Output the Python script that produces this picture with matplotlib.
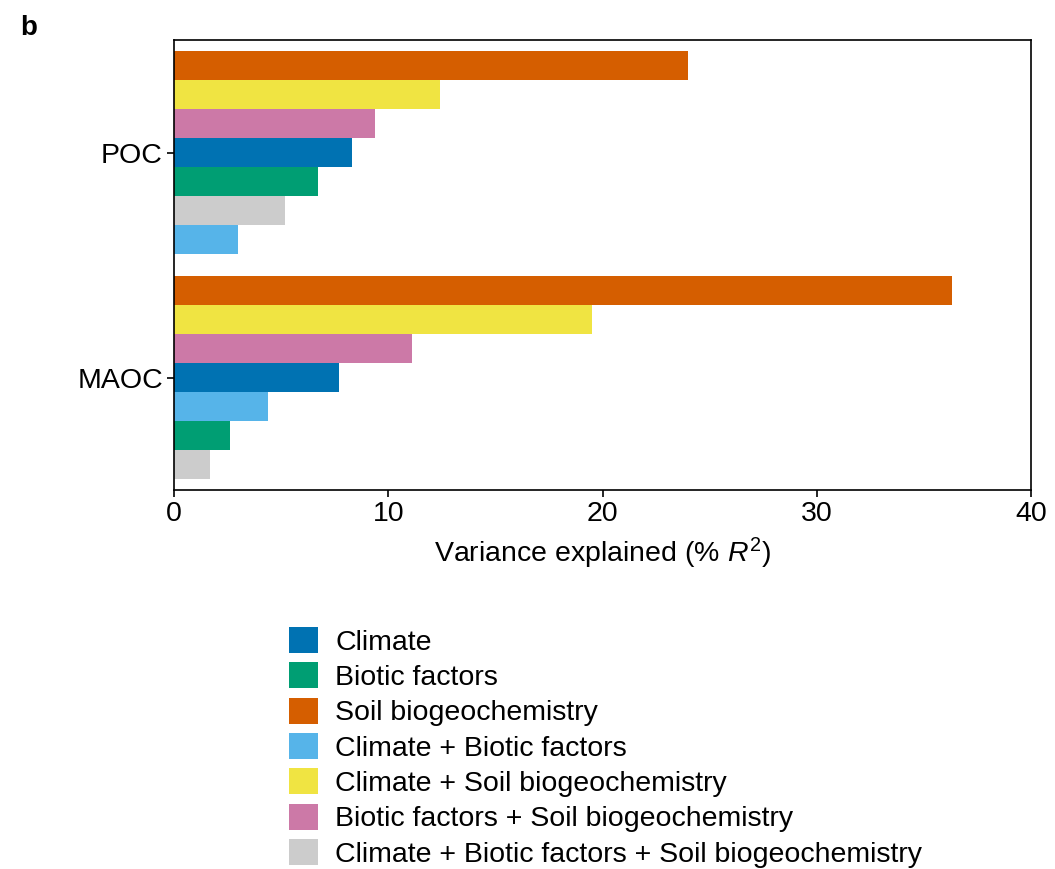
import matplotlib
matplotlib.use("Agg")
import matplotlib.pyplot as plt
from matplotlib.patches import Patch

plt.rcParams['font.family'] = ['Liberation Sans', 'DejaVu Sans']
plt.rcParams['mathtext.fontset'] = 'custom'
plt.rcParams['mathtext.it'] = 'Liberation Sans:italic'
plt.rcParams['mathtext.rm'] = 'Liberation Sans'

groups = ["POC", "MAOC"]
factors = ["Climate", "Biotic factors", "Soil biogeochemistry", "Climate + Biotic factors",
           "Climate + Soil biogeochemistry", "Biotic factors + Soil biogeochemistry",
           "Climate + Biotic factors + Soil biogeochemistry"]
colors = ["#0072B2", "#009E73", "#D55E00", "#56B4E9", "#F0E442", "#CC79A7", "#CCCCCC"]
poc = [8.3, 6.7, 24.0, 3.0, 12.4, 9.4, 5.2]
maoc = [7.7, 2.6, 36.3, 4.4, 19.5, 11.1, 1.7]

fig = plt.figure(figsize=(10.55, 8.69), dpi=100)
ax = fig.add_axes([174/1055, 1-490/869, 857/1055, 450/869])
h = 29/225
centers = {"POC": 1.0, "MAOC": 0.0}
for g, vals in zip(groups, [poc, maoc]):
    order = sorted(range(len(vals)), key=lambda i: -vals[i])
    for rank, i in enumerate(order):
        y = centers[g] + (3 - rank) * h
        ax.barh(y, vals[i], height=h, color=colors[i], linewidth=0)
ax.set_ylim(-0.498, 1.502)
ax.set_xlim(0, 40)
ax.set_yticks([centers[g] for g in groups])
ax.set_yticklabels(groups)
ax.set_xticks([0, 10, 20, 30, 40])
ax.tick_params(labelsize=20.5, length=5, width=1.2, colors='black', pad=3)
for s in ax.spines.values():
    s.set_linewidth(1.2)
ax.set_xlabel(r"Variance explained $($% $R^2)$", fontsize=20.5, labelpad=6)
fig.text(20/1055, 1-28/869, "b", fontsize=20, fontweight='bold', va='center')
handles = [Patch(facecolor=c, edgecolor='none', label=f) for c, f in zip(colors, factors)]
fig.legend(handles=handles, loc='upper left', bbox_to_anchor=(289/1055, 1-627/869),
           frameon=False, fontsize=20.5, handlelength=1.02, handleheight=1.02,
           labelspacing=0.235, handletextpad=0.6, borderaxespad=0, borderpad=0)
fig.savefig("out.png", dpi=100)
